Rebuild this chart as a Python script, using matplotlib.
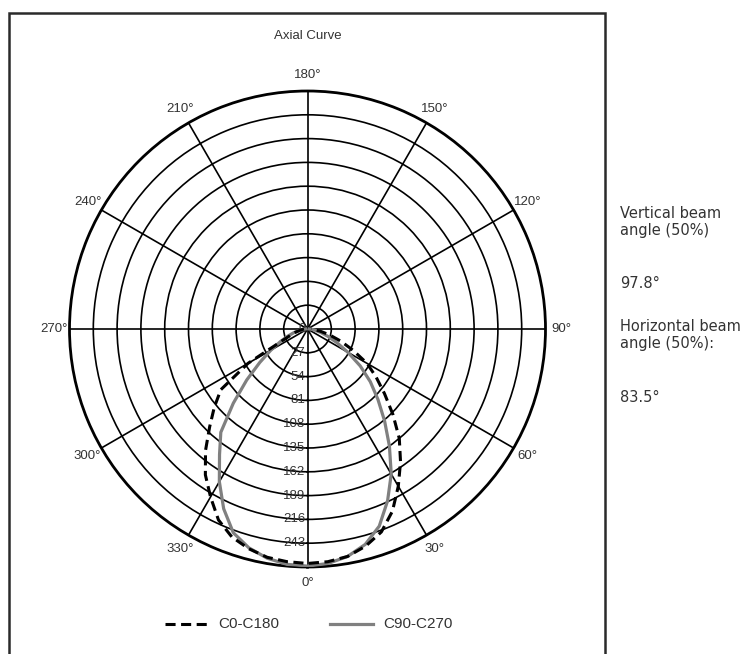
import numpy as np
import matplotlib
matplotlib.use("Agg")
import matplotlib.pyplot as plt
from matplotlib.transforms import offset_copy
from matplotlib.patches import Rectangle
from matplotlib.lines import Line2D

# angles (deg) from the 0° direction, read on each side of the curve
angles = [0, 5, 10, 15, 20, 25, 30, 35, 40, 45, 50, 55, 60, 65, 70, 75, 80, 85, 90]

# C0-C180 (dashed)
c0_right = [266, 265, 262, 255, 245, 228, 206, 184, 162, 137, 114, 95, 78, 57, 40, 26, 15, 8, 4]
c0_left = [266, 265, 263, 258, 251, 239, 220, 202, 180, 157, 138, 120, 78, 32, 20, 14, 9, 6, 4]

# C90-C270 (solid grey)
c90_right = [269, 267, 262, 253, 238, 215, 190, 162, 136, 113, 93, 73, 53, 37, 25, 16, 9, 5, 2]
c90_left = [269, 268, 264, 257, 246, 225, 200, 174, 153, 119, 90, 66, 48, 34, 24, 16, 9, 5, 2]

r_ticks = [27, 54, 81, 108, 135, 162, 189, 216, 243]
r_labels = ["0", "27", "54", "81", "108", "135", "162", "189", "216", "243"]
r_max = 270
theta_ticks = list(range(0, 360, 30))

info_lines = [("Vertical beam\nangle (50%)", 206), ("97.8°", 284),
              ("Horizontal beam\nangle (50%):", 319), ("83.5°", 398)]

W, H = 747, 654
fig = plt.figure(figsize=(W / 100, H / 100), dpi=100)
txt_col = "#333333"
dash = (3.3, 1.8)

# outer frame
fig.patches.append(Rectangle((9 / W, -0.05), (605 - 9) / W, 1.05 - 13 / H,
                             transform=fig.transFigure, fill=False,
                             edgecolor="#2a2a2a", linewidth=1.8))

cx, cy, rad = 307.5, 329, 238
ax = fig.add_axes([(cx - rad) / W, 1 - (cy + rad) / H, 2 * rad / W, 2 * rad / H],
                  projection="polar")
ax.set_theta_zero_location("S")
ax.set_theta_direction(1)
ax.set_ylim(0, r_max)
ax.set_rticks(r_ticks)
ax.set_yticklabels([])
ax.set_thetagrids(theta_ticks, [f"{t}°" for t in theta_ticks],
                  fontsize=9.5, color=txt_col, family="Liberation Sans")
ax.tick_params(axis="x", pad=1)
ax.grid(True, color="black", linewidth=1.2)
ax.spines["polar"].set_linewidth(2)
ax.spines["polar"].set_color("black")

# radial labels along the 0° line
tr = offset_copy(ax.transData, fig=fig, x=-1.5, y=0, units="points")
for r, lab in zip([0] + r_ticks, r_labels):
    ax.text(0, r, lab, transform=tr, ha="right", va="center", fontsize=9.5,
            color=txt_col, family="Liberation Sans")

a = np.array(angles)
th_c0 = np.radians(np.concatenate([-a[::-1], a[1:]]))
r_c0 = np.concatenate([c0_left[::-1], c0_right[1:]])
th_c90 = np.radians(np.concatenate([-a[::-1], a[1:]]))
r_c90 = np.concatenate([c90_left[::-1], c90_right[1:]])

ax.plot(th_c90, r_c90, color="#808080", linewidth=2.3, zorder=5)
ax.plot(th_c0, r_c0, color="black", linewidth=2.2, dashes=dash, zorder=6)

fig.text(cx / W, 1 - 36 / H, "Axial Curve", ha="center", va="center",
         fontsize=9.5, color=txt_col, family="Liberation Sans")

# legend drawn by hand
fig.lines.append(Line2D([165 / W, 208 / W], [1 - 624 / H] * 2, transform=fig.transFigure,
                        color="black", linewidth=2.2, dashes=dash))
fig.text(218 / W, 1 - 624 / H, "C0-C180", ha="left", va="center", fontsize=11,
         color=txt_col, family="Liberation Sans")
fig.lines.append(Line2D([330 / W, 373 / W], [1 - 624 / H] * 2, transform=fig.transFigure,
                        color="#808080", linewidth=2.3))
fig.text(383 / W, 1 - 624 / H, "C90-C270", ha="left", va="center", fontsize=11,
         color=txt_col, family="Liberation Sans")

for s, y in info_lines:
    fig.text(620 / W, 1 - y / H, s, ha="left", va="top" if "\n" in s else "center",
             fontsize=10.5, color=txt_col, linespacing=1.15)

fig.savefig("out.png", dpi=100)
